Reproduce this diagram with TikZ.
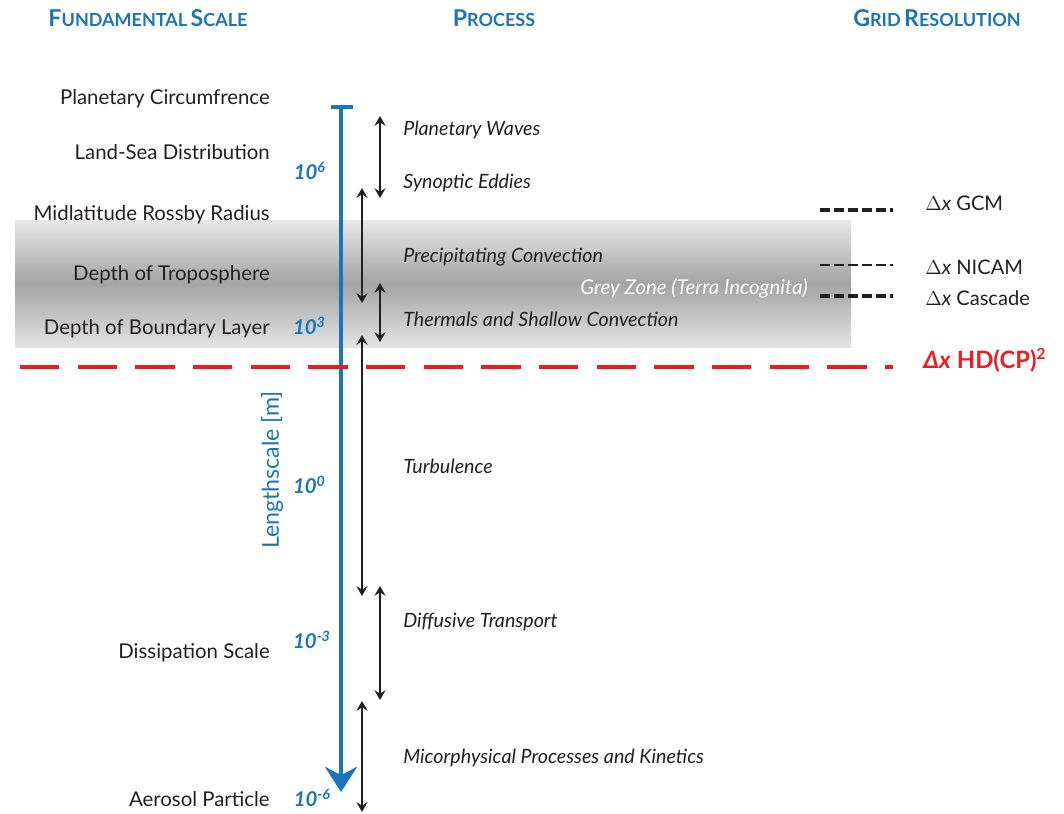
\documentclass[tikz,border=0pt]{standalone}
\usepackage{fontspec}
\setmainfont{Lato}
\usetikzlibrary{arrows.meta}
\definecolor{scaleblue}{RGB}{27,117,188}
\definecolor{hdred}{RGB}{237,28,36}
\definecolor{inkgrey}{RGB}{35,31,32}
\newcommand{\hsc}[2]{{\fontsize{16.5}{16}\selectfont #1}{\fontsize{12.8}{13}\selectfont #2}}

\begin{document}
\begin{tikzpicture}[x=0.025cm,y=-0.025cm,
	every node/.style={inner sep=0pt, text=inkgrey, font=\fontsize{14.5}{16}\selectfont},
	header/.style={text=scaleblue, font=\bfseries},
	scalelabel/.style={anchor=east},
	proclabel/.style={anchor=west, font=\fontsize{14}{16}\selectfont\itshape},
	ticklabel/.style={anchor=east, text=scaleblue, font=\fontsize{14.5}{16}\selectfont\bfseries\itshape},
	gridlabel/.style={anchor=west, font=\fontsize{14.3}{16}\selectfont},
	span/.style={{Stealth[length=7pt,width=8pt,inset=2.5pt]}-{Stealth[length=7pt,width=8pt,inset=2.5pt]}, line width=0.9pt, inkgrey},
	griddash/.style={line width=2.3pt, dash pattern=on 7pt off 3pt, inkgrey}]
		\useasboundingbox (0,0) rectangle (1064,814);
		% grey zone
		\shade[top color=black!9, bottom color=black!11, middle color=black!36] (15,220) rectangle (851,347);
		% headers
		\node[header] (hscale) at (148,18) {\hsc{F}{UNDAMENTAL} \hsc{S}{CALE}};
		\node[header] (hproc) at (494,18) {\hsc{P}{ROCESS}};
		\node[header] (hgrid) at (937,18) {\hsc{G}{RID} \hsc{R}{ESOLUTION}};
		% fundamental scales
		\node[scalelabel] (circ) at (270,99) {Planetary Circumfrence};
		\node[scalelabel] (landsea) at (270,152) {Land-Sea Distribution};
		\node[scalelabel] (rossby) at (270,215) {Midlatitude Rossby Radius};
		\node[scalelabel] (tropo) at (270,275) {Depth of Troposphere};
		\node[scalelabel] (blayer) at (270,329) {Depth of Boundary Layer};
		\node[scalelabel] (dissip) at (270,653) {Dissipation Scale};
		\node[scalelabel] (aerosol) at (270,799) {Aerosol Particle};
		% lengthscale axis
		\coordinate (axtop) at (341,107);
		\coordinate (axbot) at (341,792);
		\draw[scaleblue, line width=2.2pt] (331,107) -- (353,107);
		\draw[scaleblue, line width=2.2pt, -{Stealth[length=18pt,width=23pt,inset=6pt]}] (axtop) -- (axbot);
		\node[ticklabel] (e6) at (326,171) {10\textsuperscript{6}};
		\node[ticklabel] (e3) at (326,326) {10\textsuperscript{3}};
		\node[ticklabel] (e0) at (326,485) {10\textsuperscript{0}};
		\node[ticklabel] (em3) at (331,640) {10\textsuperscript{-3}};
		\node[ticklabel] (em6) at (331,798) {10\textsuperscript{-6}};
		\node[rotate=90, text=scaleblue, font=\fontsize{16.5}{18}\selectfont] (lscale) at (272,470) {Lengthscale [m]};
		% processes
		\coordinate (wtop) at (380,116);
		\coordinate (wbot) at (380,198);
		\coordinate (ptop) at (362,188);
		\coordinate (pbot) at (362,303);
		\coordinate (ttop) at (380,283);
		\coordinate (tbot) at (380,342);
		\coordinate (utop) at (362,335);
		\coordinate (ubot) at (362,596);
		\coordinate (dtop) at (380,586);
		\coordinate (dbot) at (380,700);
		\coordinate (mtop) at (362,701);
		\coordinate (mbot) at (362,812);
		\draw[span] (wtop) -- (wbot);
		\draw[span] (ptop) -- (pbot);
		\draw[span] (ttop) -- (tbot);
		\draw[span] (utop) -- (ubot);
		\draw[span] (dtop) -- (dbot);
		\draw[span] (mtop) -- (mbot);
		\node[proclabel] (waves) at (403,130) {Planetary Waves};
		\node[proclabel] (eddies) at (403,183) {Synoptic Eddies};
		\node[proclabel] (precip) at (403,257) {Precipitating Convection};
		\node[proclabel] (therm) at (403,319) {Thermals and Shallow Convection};
		\node[proclabel] (turb) at (403,466) {Turbulence};
		\node[proclabel] (diff) at (403,622) {Diffusive Transport};
		\node[proclabel] (micro) at (403,758) {Micorphysical Processes and Kinetics};
		\node[anchor=east, text=white, font=\fontsize{14.5}{16}\selectfont\itshape] (grey) at (808,288) {Grey Zone (Terra Incognita)};
		% grid resolutions
		\draw[griddash] (820,210) -- (893,210);
		\draw[griddash, line width=2.1pt] (820,265) -- (893,265);
		\draw[griddash] (820,296) -- (893,296);
		\node[gridlabel] (gcm) at (925,203) {$\Delta$\textit{x} GCM};
		\node[gridlabel] (nicam) at (925,267) {$\Delta$\textit{x} NICAM};
		\node[gridlabel] (cascade) at (925,298) {$\Delta$\textit{x} Cascade};
		\draw[hdred, line width=3pt, dash pattern=on 28pt off 13pt] (20,367) -- (893,367);
		\node[gridlabel, text=hdred, font=\fontsize{17}{18}\selectfont\bfseries] (hdcp) at (923,360) {\textit{Δx} HD(CP)\raisebox{0.7ex}{\fontsize{11}{12}\selectfont 2}};
	\end{tikzpicture}
\end{document}
